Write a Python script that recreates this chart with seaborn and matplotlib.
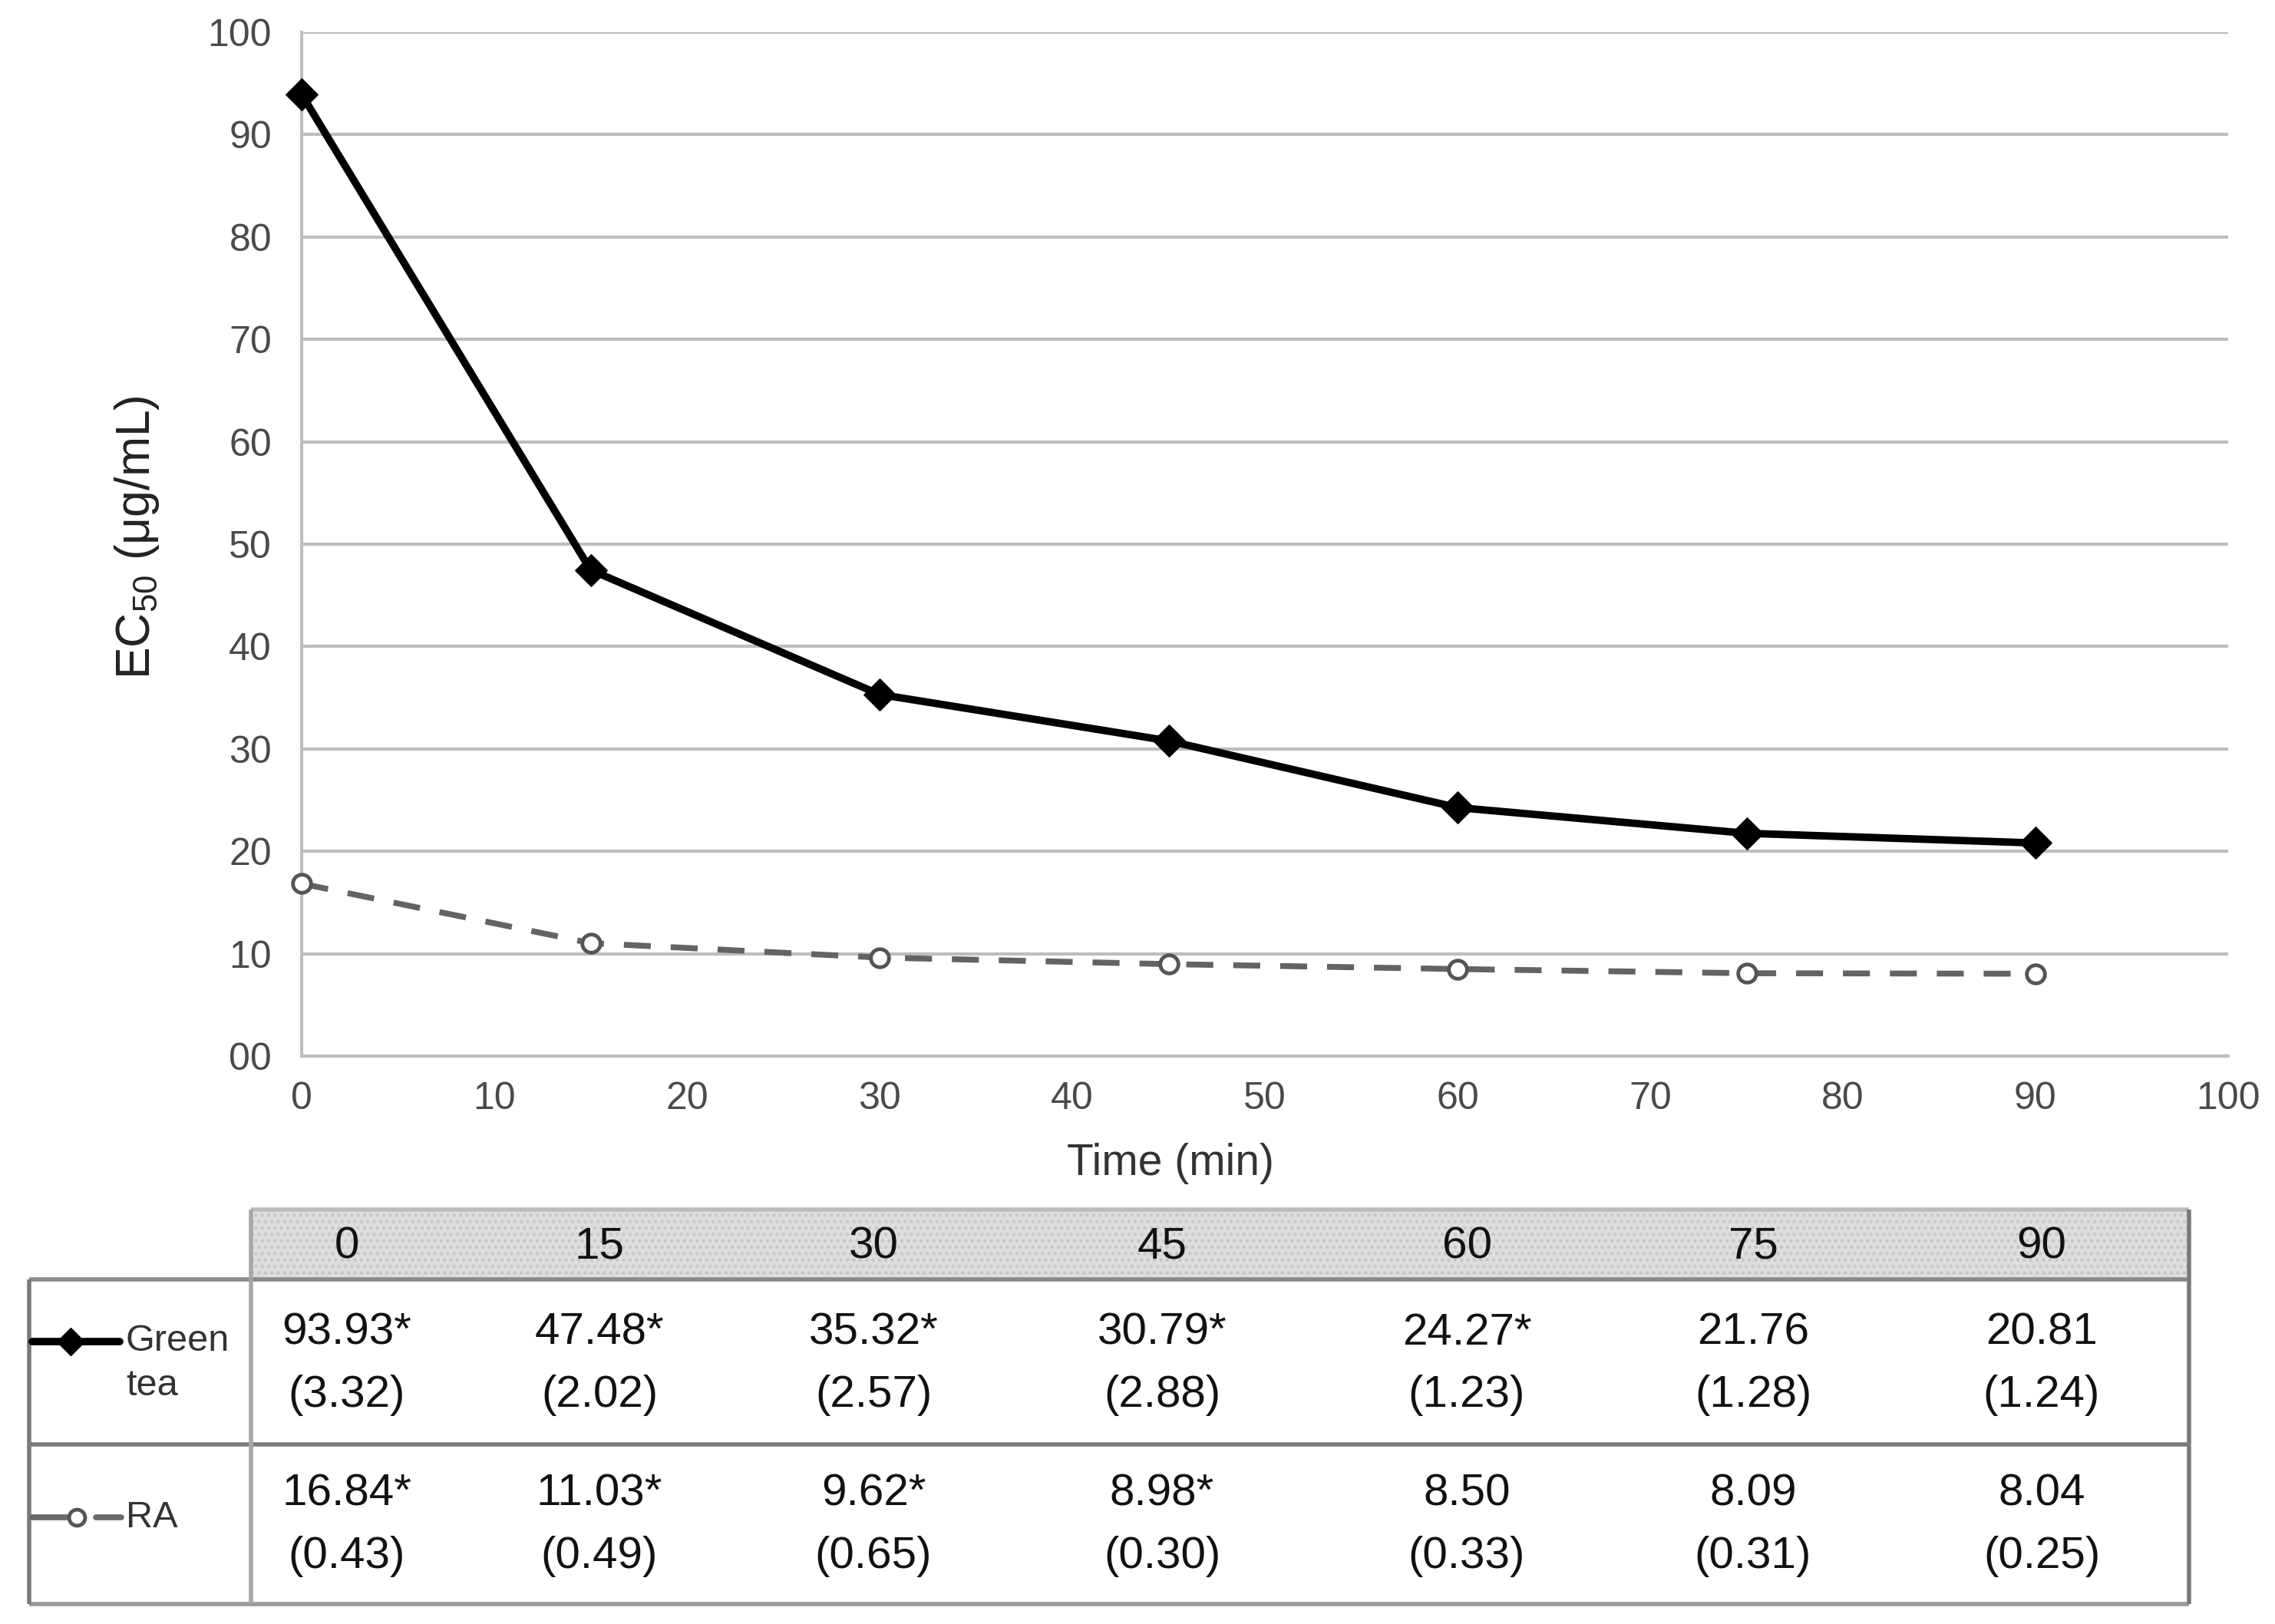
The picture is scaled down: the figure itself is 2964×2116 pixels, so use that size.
import matplotlib
matplotlib.use("Agg")
import matplotlib.pyplot as plt
import seaborn as sns
import pandas as pd
from matplotlib.patches import Rectangle
from matplotlib.lines import Line2D

# ---------------- data ----------------
time_min = [0, 15, 30, 45, 60, 75, 90]
green_tea = [93.93, 47.48, 35.32, 30.79, 24.27, 21.76, 20.81]
green_tea_sd = [3.32, 2.02, 2.57, 2.88, 1.23, 1.28, 1.24]
green_tea_sig = [True, True, True, True, True, False, False]
ra = [16.84, 11.03, 9.62, 8.98, 8.50, 8.09, 8.04]
ra_sd = [0.43, 0.49, 0.65, 0.30, 0.33, 0.31, 0.25]
ra_sig = [True, True, True, True, False, False, False]
series_labels = ["Green\ntea", "RA"]
x_ticks = list(range(0, 101, 10))
y_ticks = list(range(0, 101, 10))
y_tick_labels = ["00"] + [str(v) for v in y_ticks[1:]]
x_label = "Time (min)"
y_label = r"EC$_\mathregular{50}$ (μg/mL)"

# ---------------- style ----------------
sns.set_style("white")
plt.rcParams["font.family"] = ["Liberation Sans", "DejaVu Sans"]
plt.rcParams["mathtext.fontset"] = "custom"
plt.rcParams["mathtext.rm"] = "Liberation Sans"
plt.rcParams["hatch.linewidth"] = 2.0

W, H, DPI = 2964, 2116, 100
fig = plt.figure(figsize=(W / DPI, H / DPI), dpi=DPI)
fig.patch.set_facecolor("white")


def fx(px):
    return px / W


def fy(py):
    return 1 - py / H


GRID = "#bdbdbd"
ax = fig.add_axes([fx(393), fy(1376), (2903 - 393) / W, (1376 - 42) / H])

df = pd.DataFrame({
    "time": time_min * 2,
    "ec50": green_tea + ra,
    "series": ["Green tea"] * len(time_min) + ["RA"] * len(time_min),
})

sns.lineplot(data=df[df.series == "Green tea"], x="time", y="ec50", ax=ax,
             color="black", lw=7, marker="D", markersize=21,
             markeredgecolor="black", markerfacecolor="black",
             clip_on=False, zorder=5)
sns.lineplot(data=df[df.series == "RA"], x="time", y="ec50", ax=ax,
             color="#636363", lw=5.5, marker="o", markersize=17,
             markeredgecolor="#555555", markerfacecolor="white",
             markeredgewidth=3.5, clip_on=False, zorder=4)
ax.lines[-1].set_dashes([4.6, 3.4])

ax.set_xlim(0, 100)
ax.set_ylim(0, 100)
ax.set_xticks(x_ticks)
ax.set_yticks(y_ticks)
ax.set_yticklabels(y_tick_labels)
ax.grid(axis="y", color=GRID, lw=3)
ax.grid(axis="x", visible=False)
ax.set_axisbelow(True)
for s in ["top", "right"]:
    ax.spines[s].set_visible(False)
for s in ["left", "bottom"]:
    ax.spines[s].set_color(GRID)
    ax.spines[s].set_linewidth(3)
ax.tick_params(axis="both", which="major", direction="out", colors=GRID,
               width=3, labelcolor="#4a4a4a", labelsize=36)
ax.tick_params(axis="y", length=12, pad=16)
ax.tick_params(axis="x", length=12, pad=12)
ax.set_xlabel(x_label, fontsize=41, color="#333333", labelpad=24)
ax.xaxis.label.set_position((0.451, 0))
ax.set_ylabel("")
fig.text(fx(178), fy(700), y_label, rotation=90, ha="center", va="center",
         fontsize=45, color="#222222")

# ---------------- data table ----------------
col_centers = [452, 781, 1138, 1514, 1911, 2284, 2660]
tab_left, tab_div, tab_right = 38, 327, 2852
head_top, head_bot, row_sep, tab_bot = 1576, 1667, 1882, 2090

fig.patches.append(Rectangle((fx(tab_div), fy(head_bot)),
                             fx(tab_right) - fx(tab_div),
                             (head_bot - head_top) / H,
                             transform=fig.transFigure, facecolor="#dedede",
                             edgecolor="#c6c6c6", hatch="..", lw=0, zorder=1))


def hline(y, x0, x1, color, lw):
    fig.add_artist(Line2D([fx(x0), fx(x1)], [fy(y), fy(y)],
                          transform=fig.transFigure, color=color, lw=lw,
                          solid_capstyle="butt", zorder=3))


def vline(x, y0, y1, color, lw):
    fig.add_artist(Line2D([fx(x), fx(x)], [fy(y0), fy(y1)],
                          transform=fig.transFigure, color=color, lw=lw,
                          solid_capstyle="butt", zorder=3))


hline(head_top, tab_div, tab_right, "#bbbbbb", 4)
hline(head_bot, tab_left, tab_right, "#8a8a8a", 4)
hline(row_sep, tab_left, tab_right, "#7a7a7a", 4)
hline(tab_bot, tab_left, tab_right, "#999999", 4)
vline(tab_left, head_bot, tab_bot, "#7a7a7a", 4)
vline(tab_div, head_top, tab_bot, "#a6a6a6", 4)
vline(tab_right, head_top, tab_bot, "#7a7a7a", 4)

TF = 42
for cx, t in zip(col_centers, time_min):
    fig.text(fx(cx), fy(1624), str(t), ha="center", va="center",
             fontsize=TF, color="#111111")

rows = [(green_tea, green_tea_sd, green_tea_sig, 1737, 1818),
        (ra, ra_sd, ra_sig, 1946, 2028)]
for vals, sds, sig, yv, ys in rows:
    for cx, v, sd, s in zip(col_centers, vals, sds, sig):
        fig.text(fx(cx), fy(yv), f"{v:.2f}" + ("*" if s else ""),
                 ha="center", va="center", fontsize=TF, color="#111111")
        fig.text(fx(cx), fy(ys), f"({sd:.2f})", ha="center", va="center",
                 fontsize=TF, color="#111111")

# legend keys inside the table
fig.add_artist(Line2D([fx(42), fx(156)], [fy(1748)] * 2,
                      transform=fig.transFigure, color="black", lw=7, zorder=4))
fig.add_artist(Line2D([fx(92)], [fy(1748)], transform=fig.transFigure,
                      marker="D", markersize=18, color="black", zorder=5))
fig.text(fx(164), fy(1748), series_labels[0].split("\n")[0], ha="left",
         va="center", fontsize=35, color="#333333")
fig.text(fx(164), fy(1806), series_labels[0].split("\n")[1], ha="left",
         va="center", fontsize=35, color="#333333")

fig.add_artist(Line2D([fx(42), fx(90)], [fy(1977)] * 2,
                      transform=fig.transFigure, color="#6a6a6a", lw=5.5, zorder=4))
fig.add_artist(Line2D([fx(125), fx(158)], [fy(1977)] * 2,
                      transform=fig.transFigure, color="#6a6a6a", lw=5.5, zorder=4))
fig.add_artist(Line2D([fx(100)], [fy(1977)], transform=fig.transFigure,
                      marker="o", markersize=15, markerfacecolor="white",
                      markeredgecolor="#555555", markeredgewidth=3.5, zorder=5))
fig.text(fx(164), fy(1977), series_labels[1], ha="left", va="center",
         fontsize=35, color="#333333")

fig.savefig("out.png", dpi=DPI, facecolor="white")
